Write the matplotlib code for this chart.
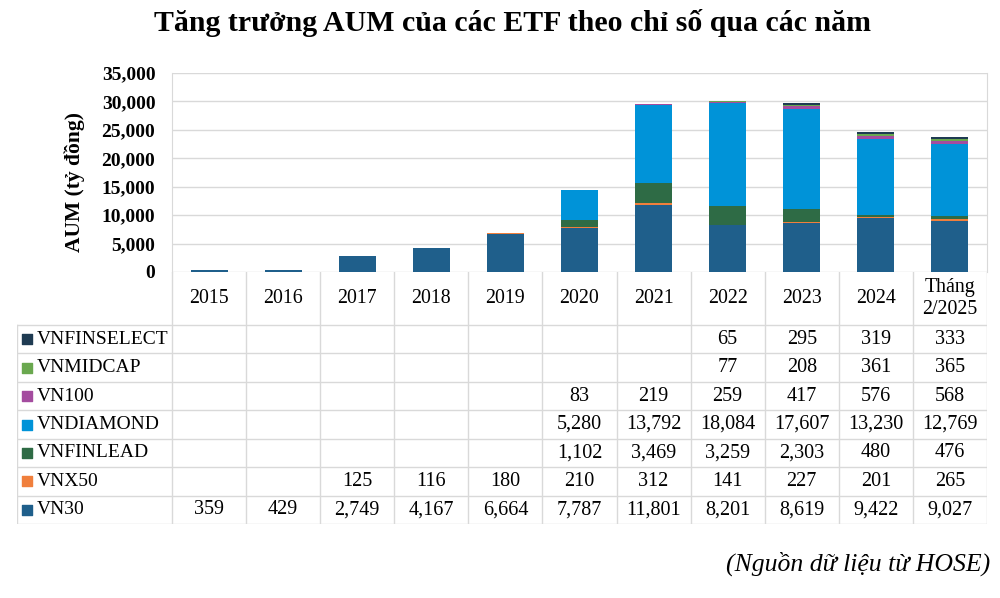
import matplotlib

matplotlib.use("Agg")
import matplotlib.pyplot as plt

plt.rcParams["font.family"] = ["Liberation Serif", "DejaVu Serif"]

# --- data ---------------------------------------------------------------
CATEGORIES = ["2015", "2016", "2017", "2018", "2019", "2020", "2021",
              "2022", "2023", "2024", "Tháng\n2/2025"]

VN30 = [359, 429, 2749, 4167, 6664, 7787, 11801, 8201, 8619, 9422, 9027]
VNX50 = [None, None, 125, 116, 180, 210, 312, 141, 227, 201, 265]
VNFINLEAD = [None, None, None, None, None, 1102, 3469, 3259, 2303, 480, 476]
VNDIAMOND = [None, None, None, None, None, 5280, 13792, 18084, 17607, 13230, 12769]
VN100 = [None, None, None, None, None, 83, 219, 259, 417, 576, 568]
VNMIDCAP = [None, None, None, None, None, None, None, 77, 208, 361, 365]
VNFINSELECT = [None, None, None, None, None, None, None, 65, 295, 319, 333]

# bottom -> top of the stack
SERIES = [
    ("VN30", VN30, "#1F5F8B"),
    ("VNX50", VNX50, "#F07F3C"),
    ("VNFINLEAD", VNFINLEAD, "#2E6B45"),
    ("VNDIAMOND", VNDIAMOND, "#0093D8"),
    ("VN100", VN100, "#A44C9F"),
    ("VNMIDCAP", VNMIDCAP, "#6AA84F"),
    ("VNFINSELECT", VNFINSELECT, "#1F3B52"),
]

TITLE = "Tăng trưởng AUM của các ETF theo chỉ số qua các năm"
YLABEL = "AUM (tỷ đồng)"
SOURCE = "(Nguồn dữ liệu từ HOSE)"

GRID = "#d9d9d9"
N = len(CATEGORIES)
LABEL_W = 155 / 74.1          # label column width, in category widths
HEADER_H = 53 / 28.4          # header row height, in table-row heights
NROWS = len(SERIES)

fig = plt.figure(figsize=(10, 5.98), dpi=100)
fig.patch.set_facecolor("white")

# --- stacked bars -------------------------------------------------------
ax = fig.add_axes([0.172, 1 - 272 / 598, 0.815, (272 - 73) / 598])
x = [i + 0.5 for i in range(N)]
bottom = [0.0] * N
for name, vals, col in SERIES:
    h = [v or 0 for v in vals]
    ax.bar(x, h, width=0.5, bottom=bottom, color=col, edgecolor="none", zorder=3)
    bottom = [b + v for b, v in zip(bottom, h)]

ax.set_xlim(0, N)
ax.set_ylim(0, 35000)
ax.set_yticks(range(0, 35001, 5000))
ax.set_yticklabels([f"{t:,}" for t in range(0, 35001, 5000)],
                   fontsize=14, fontweight="bold")
ax.set_xticks([])
ax.yaxis.grid(True, color=GRID, lw=1, zorder=0)
ax.tick_params(axis="y", length=0, pad=12)
for s in ("top", "bottom"):
    ax.spines[s].set_visible(False)
for s in ("left", "right"):
    ax.spines[s].set_color(GRID)
ax.set_ylabel(YLABEL, fontsize=15.5, fontweight="bold", labelpad=12)
ax.yaxis.label.set_y(0.45)

# --- data table ---------------------------------------------------------
tax = fig.add_axes([0.017, 1 - 524 / 598, 0.970, (524 - 272) / 598])
tax.set_xlim(-LABEL_W, N)
tax.set_ylim(0, NROWS + HEADER_H)
tax.axis("off")

for r in range(NROWS + 1):
    tax.plot([-LABEL_W, N], [r, r], color=GRID, lw=1)
for c in range(N + 1):
    tax.plot([c, c], [0, NROWS + HEADER_H], color=GRID, lw=1)
tax.plot([-LABEL_W, -LABEL_W], [0, NROWS], color=GRID, lw=1)

for i, cat in enumerate(CATEGORIES):
    tax.text(i + 0.5, NROWS + HEADER_H / 2, cat, ha="center", va="center",
             fontsize=14.3, linespacing=1.15)

for r, (name, vals, col) in enumerate(reversed(SERIES)):
    yc = NROWS - r - 0.5
    tax.scatter([-LABEL_W + 0.14], [yc], marker="s", s=50, color=col)
    tax.text(-LABEL_W + 0.27, yc, name, ha="left", va="center", fontsize=14)
    for i, v in enumerate(vals):
        if v is not None:
            tax.text(i + 0.5, yc, f"{v:,}", ha="center", va="center",
                     fontsize=14.5)

fig.text(0.513, 0.962, TITLE, ha="center", va="center", fontsize=21.5,
         fontweight="bold")
fig.text(0.990, 0.058, SOURCE, ha="right", va="center", fontsize=18.5,
         style="italic")

fig.savefig("out.png", dpi=100)
